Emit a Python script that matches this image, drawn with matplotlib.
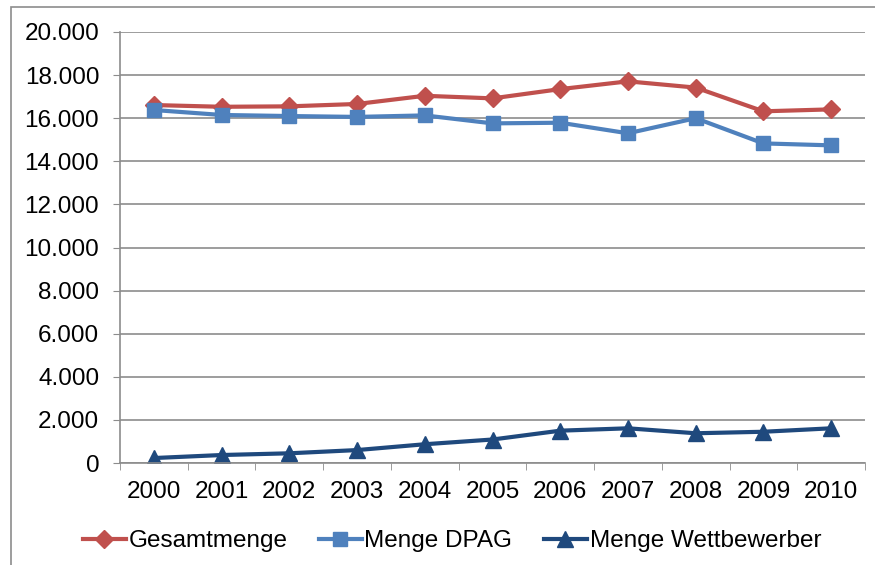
import matplotlib.pyplot as plt
from matplotlib.patches import Rectangle
from matplotlib.ticker import FuncFormatter

plt.rcParams['font.family'] = ['Liberation Sans', 'DejaVu Sans']

# Sendungsmengen (Tsd.) 2000-2010
years = ['2000', '2001', '2002', '2003', '2004', '2005',
         '2006', '2007', '2008', '2009', '2010']
gesamtmenge = [16610, 16530, 16550, 16660, 17040, 16920,
               17350, 17710, 17420, 16320, 16410]
menge_dpag = [16380, 16150, 16100, 16060, 16130, 15760,
              15790, 15300, 16000, 14830, 14740]
menge_wettbewerber = [230, 370, 450, 600, 870, 1090,
                      1500, 1610, 1380, 1450, 1610]

W, H = 875, 565
fig = plt.figure(figsize=(W / 100, H / 100), dpi=100)
ax = fig.add_axes([120 / W, 1 - 463 / H, (865 - 120) / W, (463 - 32) / H])

# chart frame (left and top edges visible)
fig.patches.append(Rectangle((11 / W, -0.1), 1.2, 1 - 7 / H + 0.1,
                             transform=fig.transFigure, fill=False,
                             edgecolor='#8c8c8c', linewidth=1.2))

x = list(range(len(years)))
ax.plot(x, gesamtmenge, color='#C0504D', lw=3, marker='D', ms=9.5,
        label='Gesamtmenge')
ax.plot(x, menge_dpag, color='#4F81BD', lw=3, marker='s', ms=10,
        label='Menge DPAG')
ax.plot(x, menge_wettbewerber, color='#1F497D', lw=3, marker='^', ms=11,
        label='Menge Wettbewerber')

ax.set_xlim(-0.5, len(years) - 0.5)
ax.set_ylim(0, 20000)
ax.set_yticks(range(0, 20001, 2000))
ax.yaxis.set_major_formatter(FuncFormatter(lambda v, p: f'{int(v):,}'.replace(',', '.')))
ax.set_xticks(x)
ax.set_xticklabels(years)
ax.set_xticks([i - 0.5 for i in range(len(years) + 1)], minor=True)

ax.grid(axis='y', color='#8c8c8c', linewidth=1.2)
ax.set_axisbelow(True)
for side in ['top', 'right']:
    ax.spines[side].set_visible(False)
for side in ['left', 'bottom']:
    ax.spines[side].set_color('#8c8c8c')
    ax.spines[side].set_linewidth(1.2)

ax.tick_params(axis='y', which='major', length=5, color='#8c8c8c',
               labelsize=17.5, pad=10)
ax.tick_params(axis='x', which='major', length=0, labelsize=17.5, pad=13)
ax.tick_params(axis='x', which='minor', length=5, color='#8c8c8c')

fig.legend(loc='center', bbox_to_anchor=(452 / W, 1 - 541 / H), ncol=3,
           frameon=False, fontsize=17.5, handlelength=1.75, handletextpad=0.12,
           columnspacing=1.3, borderaxespad=0)

fig.savefig('out.png', dpi=100)
